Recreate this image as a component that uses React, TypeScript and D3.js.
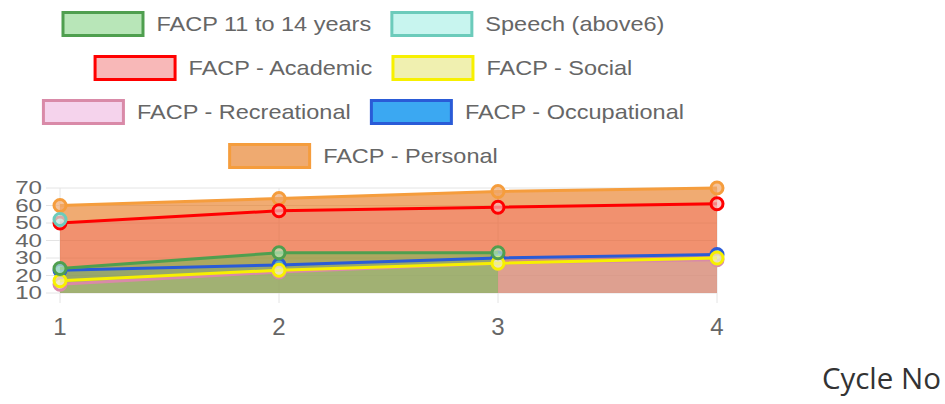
import { useRef, useEffect } from 'react';
import * as d3 from 'd3';

const CYCLES = [1, 2, 3, 4];
const Y_TICKS = [10, 20, 30, 40, 50, 60, 70];

const SERIES_NAMES = [
  'FACP 11 to 14 years',
  'Speech (above6)',
  'FACP - Academic',
  'FACP - Social',
  'FACP - Recreational',
  'FACP - Occupational',
  'FACP - Personal',
];

const SERIES_VALUES: number[][] = [
  [24, 33, 33],
  [52],
  [50, 57, 59, 61],
  [17, 23, 27, 30],
  [15, 22, 27, 29],
  [23, 26, 30, 32],
  [60, 64, 68, 70],
];

const BORDER_COLORS = ['#4f9f4f', '#6ccbbb', '#ff0000', '#f7f000', '#d98aa8', '#2a5bd7', '#f59d3d'];
const AREA_COLORS = [
  'rgba(76,200,76,0.42)',
  'rgba(140,235,220,0.4)',
  'rgba(245,75,105,0.26)',
  'rgba(240,240,150,0.3)',
  'rgba(240,180,225,0.25)',
  'rgba(30,150,240,0.22)',
  'rgba(230,115,20,0.6)',
];
const LEGEND_FILLS = ['#b8e6b8', '#c8f5ef', '#f8b8b8', '#f0f0b0', '#f5d3ec', '#3ba8f2', '#efaa70'];

// which series share a legend row
const LEGEND_ROWS = [[0, 1], [2, 3], [4, 5], [6]];

const W = 945;
const H = 404;
const FONT = 'Liberation Sans, Arial, sans-serif';
const TEXT_GREY = '#666';

export default function App() {
  const svgRef = useRef<SVGSVGElement>(null);

  useEffect(() => {
    const svg = svgRef.current;
    if (!svg) return;
    const root = d3.select(svg);
    root.selectAll('*').remove();

    const x = d3.scaleLinear().domain([1, 4]).range([60, 717]);
    const y = d3.scaleLinear().domain([10, 70]).range([293, 188]);

    // Grid
    const grid = root.append('g');
    grid.selectAll('.hg')
      .data(Y_TICKS)
      .join('line')
      .attr('x1', 46)
      .attr('x2', x(4))
      .attr('y1', (d) => y(d))
      .attr('y2', (d) => y(d))
      .attr('stroke', '#e4e4e4')
      .attr('stroke-width', 1);
    grid.selectAll('.vg')
      .data(CYCLES)
      .join('line')
      .attr('x1', (d) => x(d))
      .attr('x2', (d) => x(d))
      .attr('y1', y(70))
      .attr('y2', y(10) + 10)
      .attr('stroke', '#e4e4e4')
      .attr('stroke-width', 1);

    // Y tick labels
    root.append('g')
      .selectAll('text')
      .data(Y_TICKS)
      .join('text')
      .attr('transform', (d) => `translate(42,${y(d)}) scale(1.38,1)`)
      .attr('dy', '0.36em')
      .attr('text-anchor', 'end')
      .attr('fill', TEXT_GREY)
      .attr('font-family', FONT)
      .attr('font-size', '17.5px')
      .text((d) => d);

    // X tick labels
    root.append('g')
      .selectAll('text')
      .data(CYCLES)
      .join('text')
      .attr('x', (d) => x(d))
      .attr('y', y(10) + 42)
      .attr('text-anchor', 'middle')
      .attr('fill', TEXT_GREY)
      .attr('font-family', FONT)
      .attr('font-size', '24px')
      .text((d) => d);

    const area = d3.area<number>()
      .x((_, i) => x(CYCLES[i]))
      .y0(y(10))
      .y1((d) => y(d));
    const line = d3.line<number>()
      .x((_, i) => x(CYCLES[i]))
      .y((d) => y(d));

    // fills first, last dataset at the bottom
    const fills = root.append('g');
    for (let s = SERIES_VALUES.length - 1; s >= 0; s--) {
      const vals = SERIES_VALUES[s];
      if (vals.length > 1) {
        fills.append('path').attr('d', area(vals)!).attr('fill', AREA_COLORS[s]);
      }
    }

    // then lines + points, first dataset on top
    for (let s = SERIES_VALUES.length - 1; s >= 0; s--) {
      const vals = SERIES_VALUES[s];
      const g = root.append('g');
      if (vals.length > 1) {
        g.append('path')
          .attr('d', line(vals)!)
          .attr('fill', 'none')
          .attr('stroke', BORDER_COLORS[s])
          .attr('stroke-width', 3);
      }
      g.selectAll('circle')
        .data(vals)
        .join('circle')
        .attr('cx', (_, i) => x(CYCLES[i]))
        .attr('cy', (d) => y(d))
        .attr('r', 6)
        .attr('fill', LEGEND_FILLS[s])
        .attr('fill-opacity', 0.7)
        .attr('stroke', BORDER_COLORS[s])
        .attr('stroke-width', 3);
    }

    // Legend
    const BOX_W = 83;
    const BOX_H = 26;
    const GAP = 12;
    const ITEM_GAP = 19;
    const SX = 1.12;
    const centerX = 363;
    const legend = root.append('g');

    const measure = legend.append('text')
      .attr('font-family', FONT)
      .attr('font-size', '21px');
    const widths = SERIES_NAMES.map((n) => {
      measure.text(n);
      return (measure.node() as SVGTextElement).getComputedTextLength() * SX;
    });
    measure.remove();

    LEGEND_ROWS.forEach((row, r) => {
      const cy = 24 + r * 44;
      const itemW = row.map((s) => BOX_W + GAP + widths[s]);
      const total = d3.sum(itemW) + ITEM_GAP * (row.length - 1);
      let cx = centerX - total / 2;
      row.forEach((s, k) => {
        legend.append('rect')
          .attr('x', cx + 1.5)
          .attr('y', cy - BOX_H / 2 + 1.5)
          .attr('width', BOX_W - 3)
          .attr('height', BOX_H - 3)
          .attr('fill', LEGEND_FILLS[s])
          .attr('stroke', BORDER_COLORS[s])
          .attr('stroke-width', 3);
        legend.append('text')
          .attr('transform', `translate(${cx + BOX_W + GAP},${cy}) scale(${SX},1)`)
          .attr('dy', '0.35em')
          .attr('fill', TEXT_GREY)
          .attr('font-family', FONT)
          .attr('font-size', '21px')
          .text(SERIES_NAMES[s]);
        cx += itemW[k] + ITEM_GAP;
      });
    });

    // Axis title, bottom right
    root.append('text')
      .attr('x', 941)
      .attr('y', 389)
      .attr('text-anchor', 'end')
      .attr('fill', '#333')
      .attr('font-family', 'Open Sans, sans-serif')
      .attr('font-size', '29.5px')
      .text('Cycle No');
  }, []);

  return (
    <svg
      ref={svgRef}
      width={W}
      height={H}
      viewBox={`0 0 ${W} ${H}`}
      style={{ position: 'absolute', left: 0, top: 0, background: '#fff' }}
    />
  );
}
